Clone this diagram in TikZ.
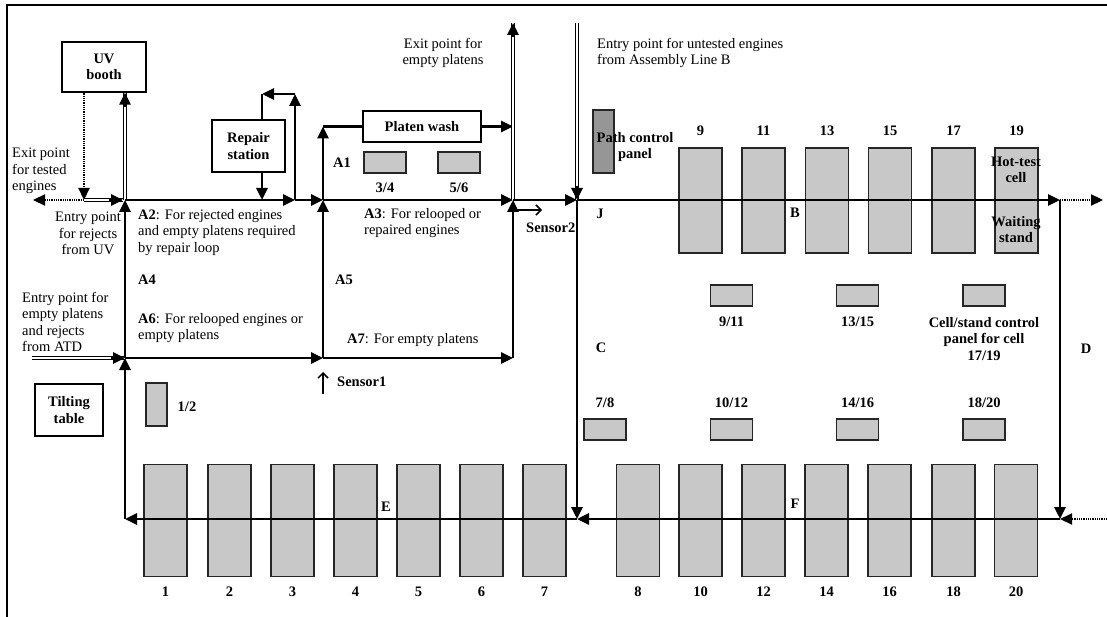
\documentclass[tikz,border=0pt]{standalone}
\usepackage{fontspec}
\setmainfont{Liberation Serif}
\usetikzlibrary{arrows.meta,calc}
\definecolor{cellgray}{RGB}{200,200,200}
\definecolor{darkpanel}{RGB}{150,150,150}
\begin{document}
\begin{tikzpicture}[x=1pt,y=-1pt,
 every node/.style={inner sep=0pt, font=\fontsize{14.5}{16.5}\selectfont},
 bf/.style={font=\fontsize{14.5}{16.5}\selectfont\bfseries},
 boxn/.style={draw, line width=1.4pt, align=center, bf},
 cellbox/.style={draw=black!85, line width=1.2pt, fill=cellgray, minimum width=43pt, minimum height=105pt},
 bcell/.style={draw=black!85, line width=1.2pt, fill=cellgray, minimum width=43pt, minimum height=112pt},
 panelh/.style={draw=black!85, line width=1.2pt, fill=cellgray, minimum width=42pt, minimum height=21pt},
 panelv/.style={draw=black!85, line width=1.2pt, fill=cellgray, minimum width=21pt, minimum height=43pt},
 flow/.style={line width=2.8pt, -{Triangle[length=12pt,width=11pt]}},
 plain/.style={line width=2.8pt},
 dbl/.style={double, line width=1.9pt, double distance=1.1pt},
 dots/.style={line width=2.2pt, dash pattern=on 1pt off 0.8pt, -{Triangle[length=12pt,width=11pt]}},
 sens/.style={line width=1.5pt, -{Straight Barb[length=5pt,width=10pt]}},
 lbl/.style={bf},
]
\useasboundingbox (0,0) rectangle (1107,617);
% frame
\coordinate (fTL) at (7,5);
\coordinate (fTR) at (1107,5);
\coordinate (fBL) at (7,617);
\draw[line width=2.6pt] (fTR) -- (fTL) -- (fBL);

% ---------- boxes ----------
\node[boxn, minimum width=84pt, minimum height=50pt] (uv) at (104,67) {UV\\booth};
\node[boxn, minimum width=73pt, minimum height=52pt] (rs) at (248.5,146) {Repair\\station};
\node[boxn, minimum width=118pt, minimum height=31pt] (pw) at (422,126.5) {Platen wash};
\node[boxn, minimum width=68pt, minimum height=52pt] (tt) at (69,410) {Tilting\\table};
\node[draw=black!85, line width=1.2pt, fill=darkpanel, minimum width=21pt, minimum height=63pt] (pcp) at (603.5,141.5) {};

% top row cells
\foreach \n/\x in {9/700.5,11/763.5,13/827,15/890,17/953.5,19/1016.5}{
  \node[cellbox] (c\n) at (\x,200.5) {};
  \node[lbl] (l\n) at (\x,131) {\n};
}
% bottom row cells
\foreach \n/\x in {1/165.5,2/229.5,3/292.5,4/355.5,5/418.5,6/481.5,7/544.5,8/638,10/700.5,12/763.5,14/826.5,16/889.5,18/953.5,20/1016}{
  \node[bcell] (c\n) at (\x,520.5) {};
  \node[lbl] (l\n) at (\x,592) {\n};
}
% control panels
\node[panelh] (p34) at (385,162.5) {};
\node[panelh] (p56) at (459,162.5) {};
\node[panelv] (p12) at (156.5,404.5) {};
\node[panelh] (p911) at (731.5,295.5) {};
\node[panelh] (p1315) at (857.5,295.5) {};
\node[panelh] (p1719) at (984,295.5) {};
\node[panelh] (p78) at (605,429.5) {};
\node[panelh] (p1012) at (731.5,429.5) {};
\node[panelh] (p1416) at (857.5,429.5) {};
\node[panelh] (p1820) at (984,429.5) {};

% ---------- junction coordinates ----------
\coordinate (jA) at (125,200);
\coordinate (jR) at (295,200);
\coordinate (jRt) at (295,94);
\coordinate (jRl) at (262,94);
\coordinate (jRd) at (262,200);
\coordinate (jP) at (323,200);
\coordinate (jPt) at (323,126.5);
\coordinate (jPe) at (513,126.5);
\coordinate (jX) at (513,200);
\coordinate (jXt) at (513,23);
\coordinate (jJ) at (577,200);
\coordinate (jJt) at (577,23);
\coordinate (jB) at (1060,200);
\coordinate (jBo) at (1103,200);
\coordinate (jF) at (1060,519);
\coordinate (jFo) at (1107,519);
\coordinate (jE) at (577,519);
\coordinate (jW) at (125,519);
\coordinate (jL) at (125,358);
\coordinate (jLo) at (32,358);
\coordinate (jM) at (323,358);
\coordinate (jN) at (513,358);
\coordinate (uvD) at (84,200);
\coordinate (uvX) at (33,200);
\coordinate (uvR) at (123,200);
\coordinate (s1a) at (323,394);
\coordinate (s1b) at (323,372);
\coordinate (s2a) at (518,210);
\coordinate (s2b) at (542,210);

% ---------- connectors ----------
% UV booth loop
\draw[dbl] (jA) -- (jA |- uv.south);
\draw[flow] ($(jA |- uv.south)+(0,14)$) -- (jA |- uv.south);
\draw[dots] (uv.south -| uvD) -- (uvD);
\draw[dots] (uvD) -- (uvX);
\draw[dbl] (uvD) -- (uvR);
\draw[flow] ($(uvR)+(-14,0)$) -- (uvR);
% repair loop
\draw[flow] (jA) -- (jR);
\draw[flow] (jR) -- (jRt);
\draw[flow] (jRt) -- (jRl);
\draw[plain] (jRl) -- (jRl |- rs.north);
\draw[flow] (jRl |- rs.south) -- (jRd);
\draw[flow] (jR) -- (jP);
% platen wash
\draw[flow] (jP) -- (jPt);
\draw[plain] (jPt) -- (pw.west);
\draw[flow] (pw.east) -- (jPe);
\draw[flow] (jP) -- (jX);
% exit for empty platens
\draw[dbl] (jX) -- (jXt);
\draw[flow] ($(jXt)+(0,14)$) -- (jXt);
\draw[flow] (jX) -- (jJ);
% entry untested
\draw[dbl] (jJt) -- (jJ);
\draw[flow] ($(jJ)+(0,-14)$) -- (jJ);
% line B
\draw[flow] (jJ) -- (jB);
\draw[dots] (jB) -- (jBo);
\draw[flow] (jB) -- (jF);
\draw[dots] (jFo) -- (jF);
% line F, C, E
\draw[flow] (jF) -- (jE);
\draw[flow] (jJ) -- (jE);
\draw[flow] (jE) -- (jW);
\draw[flow] (jW) -- (jL);
\draw[dbl] (jLo) -- (jL);
\draw[flow] ($(jL)+(-14,0)$) -- (jL);
\draw[flow] (jL) -- (jA);
\draw[flow] (jL) -- (jM);
\draw[flow] (jM) -- (jP);
\draw[flow] (jM) -- (jN);
\draw[flow] (jN) -- (jX);
% sensors
\draw[sens] (s1a) -- (s1b);
\draw[sens] (s2a) -- (s2b);

% ---------- texts ----------
\node[anchor=north west, align=left] (tExit) at (12,148) {Exit point\\for tested\\engines};
\node[anchor=north, align=center] (tEntUV) at (88,212) {Entry point\\for rejects\\from UV};
\node[anchor=north west, align=left] (tATD) at (22,292) {Entry point for\\empty platens\\and rejects\\from ATD};
\node[anchor=north west, align=left] (tA2) at (138,209) {\textbf{A2}: For rejected engines\\and empty platens required\\by repair loop};
\node[anchor=north west, align=left] (tA3) at (364,208) {\textbf{A3}: For relooped or\\repaired engines};
\node[anchor=north west, align=left] (tA6) at (138,313) {\textbf{A6}: For relooped engines or\\empty platens};
\node[anchor=west] (tA7) at (347,340) {\textbf{A7}: For empty platens};
\node[anchor=north, align=center] (tExitP) at (443,38) {Exit point for\\empty platens};
\node[anchor=north west, align=left] (tEntB) at (597,38) {Entry point for untested engines\\from Assembly Line B};
\node[lbl, anchor=west] (tA1) at (333,163) {A1};
\node[lbl, anchor=west] (tA4) at (138,280) {A4};
\node[lbl, anchor=west] (tA5) at (335,280) {A5};
\node[lbl] (t34) at (385,188) {3/4};
\node[lbl] (t56) at (459,188) {5/6};
\node[lbl] (t12) at (187,407) {1/2};
\node[lbl, anchor=west] (tS1) at (337,382) {Sensor1};
\node[lbl, anchor=west] (tS2) at (526,228) {Sensor2};
\node[lbl, anchor=north, align=center] (tPCP) at (635,132) {Path control\\panel};
\node[lbl] (tJ) at (600,214) {J};
\node[lbl] (tB) at (795,213) {B};
\node[lbl] (tC) at (601,348) {C};
\node[lbl] (tD) at (1086,349) {D};
\node[lbl] (tE) at (386,507) {E};
\node[lbl] (tF) at (795,504) {F};
\node[lbl, align=center] (tHot) at (1016,170) {Hot-test\\cell};
\node[lbl, align=center] (tWait) at (1016,229.5) {Waiting\\stand};
\node[lbl] (t911) at (731.5,322) {9/11};
\node[lbl] (t1315) at (857.5,322) {13/15};
\node[lbl, anchor=north, align=center] (tCell) at (984,317) {Cell/stand control\\panel for cell\\17/19};
\node[lbl] (t78) at (605,403) {7/8};
\node[lbl] (t1012) at (731.5,403) {10/12};
\node[lbl] (t1416) at (857.5,403) {14/16};
\node[lbl] (t1820) at (984,403) {18/20};
\end{tikzpicture}
\end{document}
